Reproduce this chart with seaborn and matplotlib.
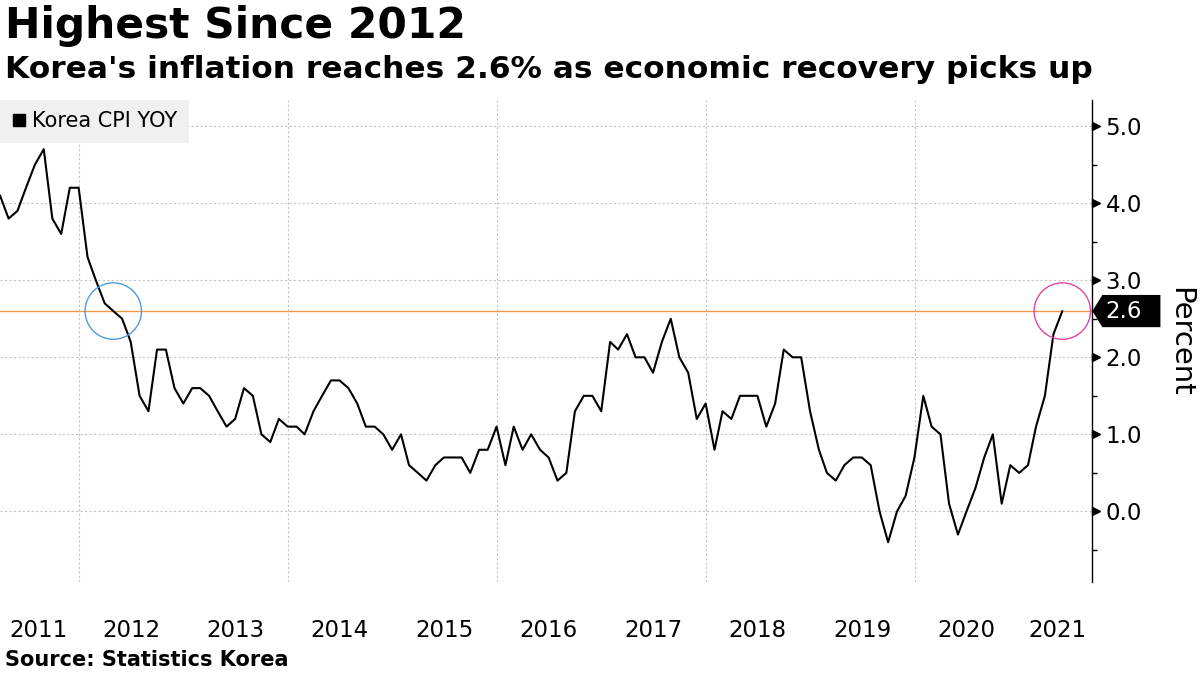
import numpy as np
import pandas as pd
import seaborn as sns
import matplotlib.pyplot as plt
import matplotlib.transforms as mtransforms
from matplotlib.patches import Polygon
from matplotlib.lines import Line2D

sns.set_style("white")
plt.rcParams['font.family'] = ['DejaVu Sans']
plt.rcParams['text.color'] = 'black'
plt.rcParams['xtick.color'] = 'black'
plt.rcParams['ytick.color'] = 'black'
plt.rcParams['axes.labelcolor'] = 'black'

# monthly Korea CPI YoY (%), Mar 2011 - May 2021, plotted at month end
months = pd.date_range("2011-03-31", periods=123, freq="ME")
cpi_yoy = [
    4.1, 3.8, 3.9, 4.2, 4.5, 4.7, 3.8, 3.6, 4.2, 4.2,
    3.3, 3.0, 2.7, 2.6, 2.5, 2.2, 1.5, 1.3, 2.1, 2.1, 1.6, 1.4,
    1.6, 1.6, 1.5, 1.3, 1.1, 1.2, 1.6, 1.5, 1.0, 0.9, 1.2, 1.1,
    1.1, 1.0, 1.3, 1.5, 1.7, 1.7, 1.6, 1.4, 1.1, 1.1, 1.0, 0.8,
    1.0, 0.6, 0.5, 0.4, 0.6, 0.7, 0.7, 0.7, 0.5, 0.8, 0.8, 1.1,
    0.6, 1.1, 0.8, 1.0, 0.8, 0.7, 0.4, 0.5, 1.3, 1.5, 1.5, 1.3,
    2.2, 2.1, 2.3, 2.0, 2.0, 1.8, 2.2, 2.5, 2.0, 1.8, 1.2, 1.4,
    0.8, 1.3, 1.2, 1.5, 1.5, 1.5, 1.1, 1.4, 2.1, 2.0, 2.0, 1.3,
    0.8, 0.5, 0.4, 0.6, 0.7, 0.7, 0.6, 0.0, -0.4, 0.0, 0.2, 0.7,
    1.5, 1.1, 1.0, 0.1, -0.3, 0.0, 0.3, 0.7, 1.0, 0.1, 0.6, 0.5,
    0.6, 1.1, 1.5, 2.3, 2.6,
]
years = list(range(2011, 2022))
year_labels = [str(y) for y in years]
grid_years = [2012, 2014, 2016, 2018, 2020]
y_ticks = [0.0, 1.0, 2.0, 3.0, 4.0, 5.0]
y_minor = [-0.5, 0.5, 1.5, 2.5, 3.5, 4.5]
highlight = 2.6

df = pd.DataFrame({"date": months, "cpi": cpi_yoy})

fig = plt.figure(figsize=(12, 6.75), dpi=100)
ax = fig.add_axes([0, 0.138, 0.9103, 0.714])

ax.axhline(highlight, color="#ef9a4a", lw=1, zorder=1)
sns.lineplot(data=df, x="date", y="cpi", color="black", linewidth=1.5, ax=ax, zorder=3)

# circles where the series hits 2.6
hits = df[np.isclose(df["cpi"], highlight)]
ax.scatter(hits["date"], hits["cpi"], s=1650, facecolors="none",
           edgecolors=["#4d9be0", "#e0479e"], linewidths=1, zorder=4)

xmin, xmax = pd.Timestamp("2011-03-31"), pd.Timestamp("2021-09-13")
ax.set_xlim(xmin, xmax)
ax.set_ylim(-0.914, 5.34)

# x axis: grid every other January, labels mid-year (kept inside axes)
ax.set_xticks([pd.Timestamp(f"{y}-01-01") for y in grid_years])
ax.set_xticklabels([])
mids = [min(max(pd.Timestamp(f"{y}-07-01"), xmin + pd.Timedelta(days=135)),
            xmax - pd.Timedelta(days=122)) for y in years]
ax.set_xticks(mids, minor=True)
ax.set_xticklabels(year_labels, minor=True)
ax.tick_params(axis="x", which="both", length=0)
ax.tick_params(axis="x", which="minor", pad=27, labelsize=16.5)

# y axis on the right
ax.yaxis.tick_right()
ax.set_yticks(y_ticks)
ax.set_yticklabels([f"{v:.1f}" for v in y_ticks])
ax.set_yticks(y_minor, minor=True)
ax.tick_params(axis="y", which="major", length=0, pad=9.4, labelsize=16.5)
ax.tick_params(axis="y", which="minor", length=3.6, width=1, color="black", direction="out", right=True)
ax.set_xlabel("")
ax.set_ylabel("")

ax.grid(True, which="major", color="#c4c4c4", linestyle=(0, (2, 2)), linewidth=0.8)
for side in ["left", "top", "bottom"]:
    ax.spines[side].set_visible(False)
ax.spines["right"].set_color("black")
ax.spines["right"].set_linewidth(1)

# triangle markers for the major y ticks
tri_off = mtransforms.ScaledTranslation(4 / 100, 0, fig.dpi_scale_trans)
ax.plot([1] * len(y_ticks), y_ticks, transform=ax.get_yaxis_transform() + tri_off,
        marker=">", ms=6, color="black", ls="none", clip_on=False)

# last value tag
tag_trans = mtransforms.Affine2D().scale(fig.dpi / 72) + \
    mtransforms.ScaledTranslation(1, highlight, ax.get_yaxis_transform())
tag = Polygon([(0, 0), (7.2, 11.6), (49, 11.6), (49, -11.6), (7.2, -11.6)],
              closed=True, facecolor="black", edgecolor="none",
              transform=tag_trans, clip_on=False, zorder=5)
ax.add_patch(tag)
ax.text(22.8, 0, f"{highlight:.1f}", transform=tag_trans, ha="center", va="center",
        color="white", fontsize=16.5, clip_on=False, zorder=6)

# legend
handle = Line2D([], [], marker="s", color="black", linestyle="none", markersize=9)
leg = ax.legend([handle], ["Korea CPI YOY"], loc="upper left", bbox_to_anchor=(0, 1),
                borderaxespad=0, frameon=True, facecolor="#f0f0f0", edgecolor="none",
                fancybox=False, framealpha=1, fontsize=15, handlelength=0.7,
                handletextpad=0.3, borderpad=0.55)
leg.set_zorder(7)

fig.text(1180 / 1200, 1 - 342 / 675, "Percent", rotation=270, ha="center", va="center", fontsize=21)
fig.text(0.004, 1 - 5 / 675, "Highest Since 2012", fontsize=30.5, fontweight="bold", va="top")
fig.text(0.004, 1 - 55 / 675, "Korea's inflation reaches 2.6% as economic recovery picks up",
         fontsize=22.5, fontweight="bold", va="top")
fig.text(0.004, 1 - 650 / 675, "Source: Statistics Korea", fontsize=15, fontweight="bold", va="top")

fig.savefig("out.png", dpi=100)
